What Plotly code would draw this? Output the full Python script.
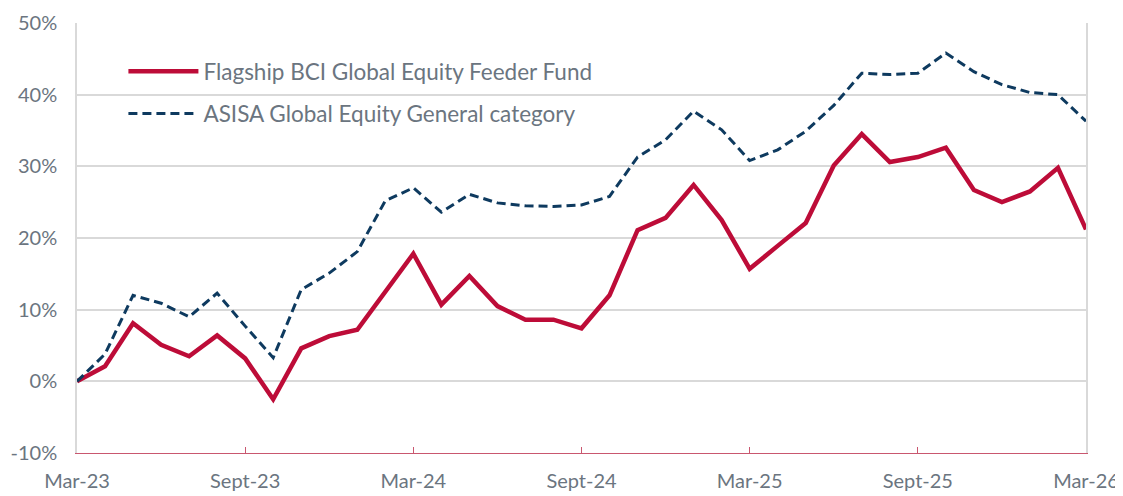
import plotly.graph_objects as go

months = ["Mar", "Apr", "May", "Jun", "Jul", "Aug", "Sept", "Oct", "Nov", "Dec", "Jan", "Feb"]
categories = []
for i in range(37):
    m = months[i % 12]
    yr = 23 + (i + 2) // 12
    categories.append(f"{m}-{yr}")

fund_name = "Flagship BCI Global Equity Feeder Fund"
fund = [0.0, 2.1, 8.1, 5.1, 3.5, 6.4, 3.2, -2.5, 4.6, 6.3, 7.2, 12.6,
        17.8, 10.7, 14.7, 10.5, 8.6, 8.6, 7.4, 12.0, 21.1, 22.8, 27.4, 22.5,
        15.7, 18.9, 22.1, 30.1, 34.5, 30.6, 31.3, 32.6, 26.7, 25.0, 26.5, 29.8, 21.2]

cat_name = "ASISA Global Equity General category"
category_avg = [0.0, 3.8, 12.0, 10.9, 9.0, 12.3, 7.7, 3.3, 12.8, 15.1, 18.1, 25.2,
                27.0, 23.6, 26.1, 24.9, 24.5, 24.4, 24.6, 25.8, 31.3, 33.7, 37.7, 35.1,
                30.8, 32.3, 34.9, 38.5, 43.0, 42.8, 43.0, 45.8, 43.2, 41.4, 40.3, 40.0, 36.3]

tick_labels = ["Mar-23", "Sept-23", "Mar-24", "Sept-24", "Mar-25", "Sept-25", "Mar-26"]
y_ticks = [-10, 0, 10, 20, 30, 40, 50]

RED = "#bd0c38"
BLUE = "#0e3a5f"
TXT = "#6b7580"
GRID = "#d9d9d9"

fig = go.Figure()
fig.add_trace(go.Scatter(x=categories, y=fund, name=fund_name, mode="lines", legendgroup="a",
                         line=dict(color=RED, width=4.5)))
fig.add_trace(go.Scatter(x=categories, y=category_avg, name=cat_name, mode="lines", legendgroup="b",
                         line=dict(color=BLUE, width=3, dash="9px,5px")))

# the page body adds an 8px margin, so the figure is sized to fill the rest of the window
fig.update_layout(
    width=1115, height=488,
    margin=dict(l=69, r=37, t=15, b=43, autoexpand=False),
    paper_bgcolor="white", plot_bgcolor="white",
    font=dict(family="Lato, Noto Sans, sans-serif", size=19, color=TXT),
    showlegend=True,
    legend=dict(x=0.046, y=0.937, xanchor="left", yanchor="top",
                bgcolor="rgba(0,0,0,0)", font=dict(size=22.5, color=TXT),
                itemwidth=70, tracegroupgap=10),
    xaxis=dict(type="category", range=[0, 36], tickmode="array", tickvals=tick_labels,
               ticktext=tick_labels, showgrid=False, showline=True, linecolor="#c9576f",
               linewidth=1.2, ticks="inside", ticklen=6, tickcolor="#c9576f", tickwidth=1,
               zeroline=False, automargin=False, ticklabelstandoff=10,
               tickfont=dict(size=20, color=TXT)),
    yaxis=dict(range=[-10, 50], tickmode="array", tickvals=y_ticks,
               ticktext=[f"{v}%" for v in y_ticks], showgrid=True, gridcolor=GRID,
               gridwidth=1.5, showline=True, linecolor=GRID, linewidth=1.5, mirror=True,
               zeroline=False, ticks="", ticklabelstandoff=14, automargin=False,
               tickfont=dict(size=20, color=TXT)),
)

fig.write_html("out.html")
